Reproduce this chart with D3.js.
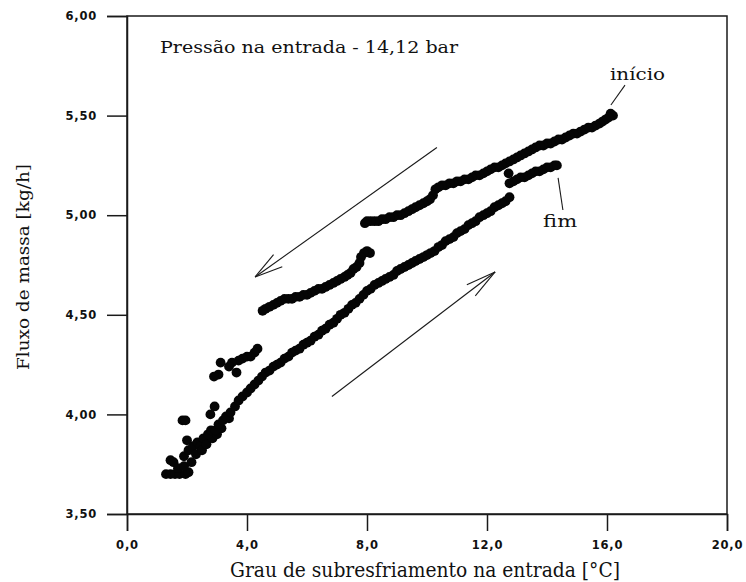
<!DOCTYPE html>
<html>
<head>
<meta charset="utf-8">
<script src="https://cdn.jsdelivr.net/npm/d3@7/dist/d3.min.js"></script>
<style>
  html, body { margin: 0; padding: 0; background: #fff; }
  svg { display: block; }
</style>
</head>
<body>
<svg id="chart" width="746" height="582"></svg>
<script>
// Ensaio com pressão na entrada de 14,12 bar: fluxo de massa x grau de subresfriamento

// Trajeto de descida (a partir do "início"), [subresfriamento °C, fluxo kg/h]
const descida = [
  [16.20,5.50],[16.12,5.51],[16.05,5.49],[15.95,5.48],[15.85,5.47],[15.75,5.46],[15.62,5.45],
  [15.50,5.44],[15.38,5.44],[15.25,5.43],[15.12,5.42],[15.00,5.41],[14.88,5.41],[14.75,5.40],
  [14.62,5.39],[14.50,5.38],[14.38,5.38],[14.25,5.37],[14.12,5.36],[14.00,5.36],[13.88,5.35],
  [13.75,5.35],[13.62,5.34],[13.50,5.33],[13.38,5.32],[13.25,5.31],[13.12,5.30],[13.00,5.29],
  [12.88,5.28],[12.75,5.27],[12.62,5.26],[12.50,5.25],[12.38,5.24],[12.25,5.24],[12.12,5.23],
  [12.00,5.22],[11.88,5.21],[11.75,5.20],[11.62,5.20],[11.50,5.19],[11.38,5.18],[11.25,5.18],
  [11.12,5.17],[11.00,5.17],[10.88,5.16],[10.75,5.16],[10.62,5.15],[10.50,5.15],[10.38,5.14],
  [10.28,5.13],[10.20,5.10],[10.10,5.08],[10.00,5.07],[9.88,5.06],[9.75,5.05],[9.62,5.04],
  [9.50,5.03],[9.38,5.02],[9.25,5.01],[9.12,5.00],[9.00,5.00],[8.88,4.99],[8.75,4.99],
  [8.62,4.98],[8.50,4.98],[8.38,4.97],[8.25,4.97],[8.12,4.97],[8.00,4.97],[7.93,4.96],
  [12.72,5.21],
  [8.10,4.81],[8.00,4.82],[7.90,4.81],[7.80,4.79],[7.75,4.76],[7.65,4.74],[7.55,4.73],
  [7.45,4.71],[7.35,4.70],[7.25,4.69],[7.12,4.68],[7.00,4.67],[6.88,4.66],[6.75,4.65],
  [6.62,4.64],[6.50,4.63],[6.38,4.63],[6.25,4.62],[6.12,4.61],[6.00,4.60],[5.88,4.60],
  [5.75,4.59],[5.62,4.59],[5.50,4.58],[5.38,4.58],[5.25,4.58],[5.12,4.57],[5.00,4.56],
  [4.88,4.55],[4.75,4.54],[4.62,4.53],[4.52,4.52],
  [4.35,4.33],[4.25,4.31],[4.12,4.29],[4.00,4.29],[3.85,4.28],[3.72,4.27],[3.65,4.21],
  [3.50,4.26],[3.40,4.24],[3.12,4.26],[3.05,4.20],[2.90,4.19],[2.92,4.04],[2.78,4.00],
  [1.85,3.97],[1.95,3.97],
  [1.30,3.70],[1.45,3.70],[1.60,3.70],[1.75,3.70],[1.95,3.70],[2.05,3.71],[1.45,3.77],[1.55,3.76],
  [1.70,3.73],[1.90,3.74],[2.15,3.76]
];

// Trajeto de subida (até o "fim")
const subida = [
  [1.90,3.79],[2.05,3.82],[2.00,3.87],[2.20,3.84],[2.35,3.86],[2.45,3.84],[2.55,3.88],
  [2.30,3.80],[2.50,3.82],[2.65,3.85],[2.85,3.88],[3.00,3.90],[3.15,3.93],[3.40,3.98],
  [2.70,3.90],[2.80,3.92],[2.95,3.92],[3.05,3.95],[3.20,3.97],[3.30,3.99],[3.45,4.01],
  [3.60,4.04],[3.72,4.07],[3.85,4.09],[4.00,4.11],[4.12,4.13],[4.25,4.15],[4.38,4.17],
  [4.50,4.19],[4.62,4.21],[4.75,4.22],[4.88,4.24],[5.00,4.25],[5.12,4.26],[5.25,4.28],
  [5.38,4.29],[5.50,4.31],[5.62,4.32],[5.75,4.33],[5.88,4.35],[6.00,4.36],[6.12,4.37],
  [6.25,4.39],[6.38,4.40],[6.50,4.42],[6.62,4.43],[6.75,4.45],[6.88,4.46],[7.00,4.48],
  [7.12,4.50],[7.25,4.51],[7.38,4.53],[7.50,4.55],[7.62,4.56],[7.75,4.58],[7.88,4.60],
  [8.00,4.62],[8.12,4.63],[8.25,4.65],[8.38,4.66],[8.50,4.67],[8.62,4.68],[8.75,4.69],
  [8.88,4.70],[9.00,4.72],[9.12,4.73],[9.25,4.74],[9.38,4.75],[9.50,4.76],[9.62,4.77],
  [9.75,4.78],[9.88,4.79],[10.00,4.80],[10.12,4.81],[10.25,4.82],[10.38,4.84],[10.50,4.85],
  [10.62,4.87],[10.75,4.88],[10.88,4.89],[11.00,4.91],[11.12,4.92],[11.25,4.93],[11.38,4.95],
  [11.50,4.96],[11.62,4.97],[11.75,4.99],[11.88,5.00],[12.00,5.01],[12.12,5.02],[12.25,5.04],
  [12.38,5.05],[12.50,5.06],[12.62,5.07],[12.75,5.09],
  [12.75,5.16],[12.88,5.17],[13.00,5.18],[13.12,5.19],[13.25,5.19],[13.38,5.20],[13.50,5.21],
  [13.62,5.22],[13.75,5.22],[13.88,5.23],[14.00,5.24],[14.12,5.24],[14.25,5.25],[14.33,5.25]
];

// Ticks dos eixos
const xTicks = [0, 4, 8, 12, 16, 20];
const yTicks = [3.5, 4.0, 4.5, 5.0, 5.5, 6.0];

// Setas indicando o sentido do ensaio (coordenadas nos eixos)
const setaDescida = [[10.33, 5.34], [4.27, 4.69]];
const setaSubida = [[6.83, 4.09], [12.27, 4.715]];

const svg = d3.select("#chart");
const mLeft = 127, mRight = 727, mTop = 16, mBottom = 514;

const x = d3.scaleLinear().domain([0, 20]).range([mLeft, mRight]);
const y = d3.scaleLinear().domain([3.5, 6.0]).range([mBottom, mTop]);

const fmtX = v => d3.format(".1f")(v).replace(".", ",");
const fmtY = v => d3.format(".2f")(v).replace(".", ",");

// Moldura
svg.append("rect")
  .attr("x", mLeft).attr("y", mTop)
  .attr("width", mRight - mLeft).attr("height", mBottom - mTop)
  .attr("fill", "none").attr("stroke", "#1a1a1a").attr("stroke-width", 1.5);

const tickFont = sel => sel
  .attr("fill", "#111")
  .style("font-family", "'DejaVu Sans', sans-serif")
  .style("font-weight", "bold")
  .style("font-size", "11.5px")
  .style("letter-spacing", "0.8px");

// Eixo Y
const gy = svg.append("g")
  .attr("transform", `translate(${mLeft},0)`)
  .call(d3.axisLeft(y).tickValues(yTicks).tickSize(20).tickPadding(10).tickFormat(fmtY));
gy.select(".domain").attr("stroke", "#1a1a1a").attr("stroke-width", 1.5);
gy.selectAll(".tick line").attr("stroke", "#1a1a1a").attr("stroke-width", 1.5);
gy.selectAll(".tick text").call(tickFont);

// Eixo X
const gx = svg.append("g")
  .attr("transform", `translate(0,${mBottom})`)
  .call(d3.axisBottom(x).tickValues(xTicks).tickSize(17).tickPadding(10).tickFormat(fmtX));
gx.select(".domain").attr("stroke", "#1a1a1a").attr("stroke-width", 1.5);
gx.selectAll(".tick line").attr("stroke", "#1a1a1a").attr("stroke-width", 1.5);
gx.selectAll(".tick text").call(tickFont);

// Pontos medidos
const pts = svg.append("g");
pts.selectAll("circle.descida").data(descida).enter().append("circle")
  .attr("class", "descida")
  .attr("cx", d => x(d[0])).attr("cy", d => y(d[1]))
  .attr("r", 4.9).attr("fill", "#050505");
pts.selectAll("circle.subida").data(subida).enter().append("circle")
  .attr("class", "subida")
  .attr("cx", d => x(d[0])).attr("cy", d => y(d[1]))
  .attr("r", 4.9).attr("fill", "#050505");

// Setas com ponta aberta
function seta(p, spread, len) {
  const x1 = x(p[0][0]), y1 = y(p[0][1]), x2 = x(p[1][0]), y2 = y(p[1][1]);
  const g = svg.append("g").attr("stroke", "#1a1a1a").attr("stroke-width", 1.1).attr("fill", "none");
  g.append("line").attr("x1", x1).attr("y1", y1).attr("x2", x2).attr("y2", y2);
  const ang = Math.atan2(y1 - y2, x1 - x2);
  [-spread, spread].forEach(s => {
    const a = ang + s * Math.PI / 180;
    g.append("line")
      .attr("x1", x2).attr("y1", y2)
      .attr("x2", x2 + len * Math.cos(a)).attr("y2", y2 + len * Math.sin(a));
  });
}
seta(setaDescida, 15, 29);
seta(setaSubida, 13, 31);

// Rótulos "início" e "fim"
const serif = "'DejaVu Serif', 'Liberation Serif', serif";
svg.append("line")
  .attr("x1", x(16.60)).attr("y1", y(5.653))
  .attr("x2", x(16.13)).attr("y2", y(5.553))
  .attr("stroke", "#1a1a1a").attr("stroke-width", 1.1);
svg.append("text")
  .attr("x", x(16.10)).attr("y", y(5.679))
  .attr("textLength", 55).attr("lengthAdjust", "spacingAndGlyphs")
  .style("font-family", serif).style("font-size", "16px").attr("fill", "#111")
  .text("início");

svg.append("line")
  .attr("x1", x(14.37)).attr("y1", y(5.187))
  .attr("x2", x(14.53)).attr("y2", y(5.026))
  .attr("stroke", "#1a1a1a").attr("stroke-width", 1.1);
svg.append("text")
  .attr("x", x(13.87)).attr("y", y(4.94))
  .attr("textLength", 34).attr("lengthAdjust", "spacingAndGlyphs")
  .style("font-family", serif).style("font-size", "16px").attr("fill", "#111")
  .text("fim");

// Condição do ensaio
svg.append("text")
  .attr("x", 160).attr("y", 53)
  .attr("textLength", 298).attr("lengthAdjust", "spacingAndGlyphs")
  .style("font-family", serif).style("font-size", "16px").attr("fill", "#111")
  .text("Pressão na entrada - 14,12 bar");

// Títulos dos eixos
svg.append("text")
  .attr("x", 230).attr("y", 577)
  .attr("textLength", 390).attr("lengthAdjust", "spacingAndGlyphs")
  .style("font-family", serif).style("font-size", "20px").attr("fill", "#111")
  .text("Grau de subresfriamento na entrada [°C]");

svg.append("text")
  .attr("transform", "translate(29,370) rotate(-90)")
  .attr("textLength", 206).attr("lengthAdjust", "spacingAndGlyphs")
  .style("font-family", serif).style("font-size", "17px").attr("fill", "#111")
  .text("Fluxo de massa [kg/h]");
</script>
</body>
</html>
